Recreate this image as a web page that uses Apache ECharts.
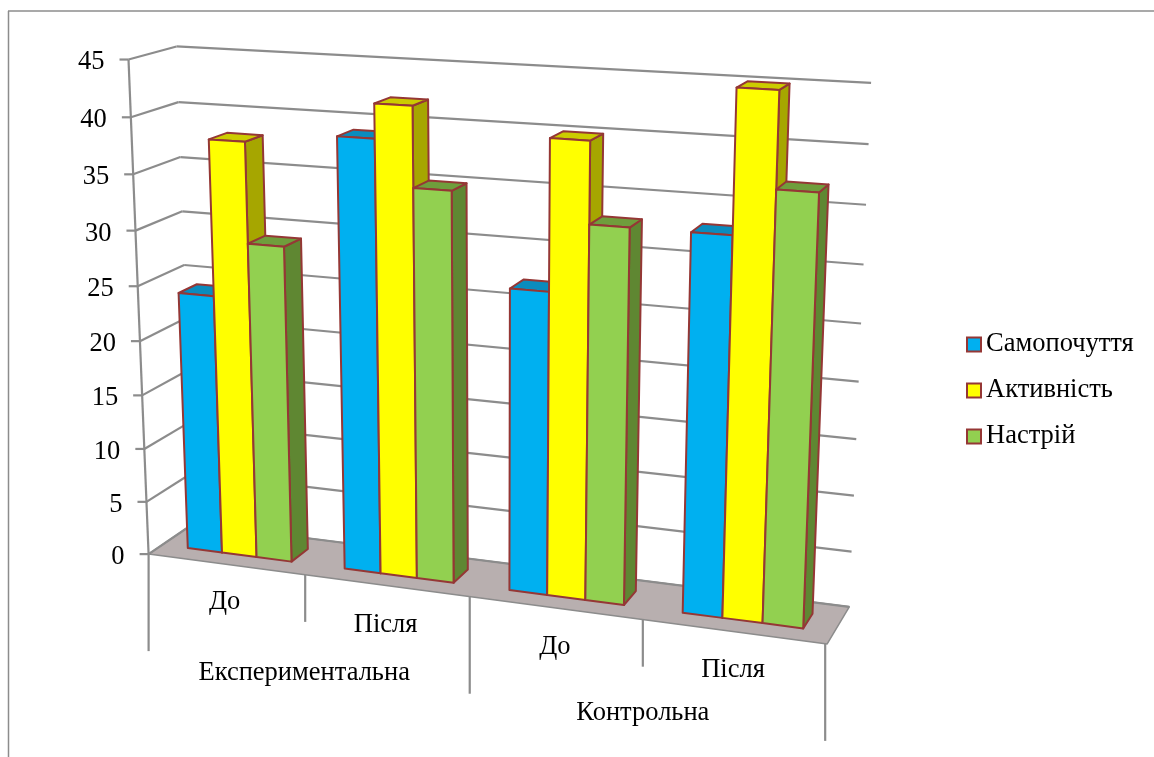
<!DOCTYPE html>
<html>
<head>
<meta charset="utf-8">
<title>Самопочуття, активність, настрій</title>
<script src="https://cdn.jsdelivr.net/npm/echarts@6/dist/echarts.min.js"></script>
<style>html,body{margin:0;padding:0;background:#fff}#chart{width:1154px;height:757px}</style>
</head>
<body>
<div id="chart"></div>
<script>
// Chart data
const groupNames = ['Експериментальна', 'Контрольна'];
const stageNames = ['До', 'Після', 'До', 'Після'];
const seriesNames = ['Самопочуття', 'Активність', 'Настрій'];
const wellbeing = [24, 39, 27, 33];
const activity = [38, 42, 40, 45];
const mood = [29, 35, 33, 37];
const yTicks = [0, 5, 10, 15, 20, 25, 30, 35, 40, 45];

// Face colours per series: front, top, side
const faceColors = [
  ['#00B0F0', '#0A8CBE', '#00729C'],
  ['#FFFF00', '#CCCC00', '#A6A600'],
  ['#92D050', '#6F9E3C', '#5F8732']
];
const outline = '#953735';
const wallGray = '#8C8C8C';
const floorFill = '#B8AFAF';
const serif = '"Liberation Serif", "Times New Roman", serif';
const textSize = 26.5;

// Perspective camera: normalised box coordinates (across, up, depth) to screen
const camera = [0.59894, -0.02712, 0.05200, 0.14860, 0.02778, -0.49783, -0.01062, 0.55411, -0.09628, -0.05470, 0.03771];
const depthFront = 0.3, depthBack = 0.7;
const barShare = 2 / 9, barInset = 1 / 6;
const gridBox = { left: 0, top: 0, width: 800, height: 450 };

// Label drop below the floor edge
const stageDrop = [38, 39, 39, 38];
const groupDrop = [98, 93];

// Goes through the axis scales, then through the camera
function place(api, x, y, z) {
  const c = api.coord([x, y]);
  const X = (c[0] - gridBox.left) / gridBox.width;
  const Y = 1 - (c[1] - gridBox.top) / gridBox.height;
  const p = camera;
  const w = p[8] * X + p[9] * Y + p[10] * z + 1;
  return [
    1000 * (p[0] * X + p[1] * Y + p[2] * z + p[3]) / w,
    1000 * (p[4] * X + p[5] * Y + p[6] * z + p[7]) / w
  ];
}

function face(points, fill, stroke, width) {
  return { type: 'polygon', shape: { points }, style: { fill, stroke, lineWidth: width, lineJoin: 'round' } };
}
function segment(a, b, width) {
  return { type: 'line', shape: { x1: a[0], y1: a[1], x2: b[0], y2: b[1] }, style: { stroke: wallGray, lineWidth: width, lineCap: 'butt' } };
}
function label(text, x, y, align) {
  return { type: 'text', style: { text, x, y, align: align || 'center', verticalAlign: 'middle', fontSize: textSize, fontFamily: serif, fill: '#000' } };
}

function barRenderer(k) {
  return function (params, api) {
    const cat = api.value(0), val = api.value(1);
    const x0 = cat + barInset + k * barShare, x1 = x0 + barShare;
    const colors = faceColors[k];
    const a = (x, y, z) => place(api, x, y, z);
    return {
      type: 'group',
      children: [
        face([a(x1, 0, depthFront), a(x1, 0, depthBack), a(x1, val, depthBack), a(x1, val, depthFront)], colors[2], outline, 2),
        face([a(x0, val, depthFront), a(x1, val, depthFront), a(x1, val, depthBack), a(x0, val, depthBack)], colors[1], outline, 2),
        face([a(x0, 0, depthFront), a(x1, 0, depthFront), a(x1, val, depthFront), a(x0, val, depthFront)], colors[0], outline, 2)
      ]
    };
  };
}

function floorRenderer(params, api) {
  const corners = [place(api, 0, 0, 0), place(api, 4, 0, 0), place(api, 4, 0, 1), place(api, 0, 0, 1)];
  return face(corners, floorFill, wallGray, 1.5);
}

function valueTickRenderer(params, api) {
  const v = api.value(1);
  const front = place(api, 0, v, 0), back = place(api, 0, v, 1), right = place(api, 4, v, 1);
  return {
    type: 'group',
    children: [
      segment(back, right, 2.2),
      segment(front, back, 2.2),
      segment([front[0] - 9, front[1]], front, 2.2),
      label(String(v), front[0] - 24, front[1] + 3, 'right')
    ]
  };
}

function valueAxisRenderer(params, api) {
  return segment(place(api, 0, 0, 0), place(api, 0, 45, 0), 2.2);
}

// Short dividers between stages, long ones between groups
function dividerRenderer(params, api) {
  const x = api.value(0);
  const top = place(api, x, 0, 0);
  const px = top[0] - x * 0.5;
  return segment([px, top[1]], [px, top[1] + (x % 2 === 0 ? 97 : 47)], 2.2);
}

function stageRenderer(params, api) {
  const i = api.value(0);
  const p = place(api, i + 0.5, 0, 0);
  return label(stageNames[i], p[0] - 1.5, p[1] + stageDrop[i]);
}

function groupRenderer(params, api) {
  const i = api.value(0);
  const p = place(api, i * 2 + 1, 0, 0);
  return label(groupNames[i], p[0] - 1.5, p[1] + groupDrop[i]);
}

function helperSeries(data, renderItem, z) {
  return { type: 'custom', coordinateSystem: 'cartesian2d', silent: true, z, clip: false, data, renderItem, encode: { x: 0, y: 1 } };
}

const option = {
  animation: false,
  backgroundColor: '#fff',
  grid: Object.assign({ containLabel: false }, gridBox),
  xAxis: { type: 'value', min: 0, max: 4, show: false },
  yAxis: { type: 'value', min: 0, max: 45, interval: 5, show: false },
  legend: {
    orient: 'vertical', left: 966, top: 331, padding: 0, itemWidth: 14, itemHeight: 14, itemGap: 19,
    selectedMode: false, icon: 'rect', data: seriesNames,
    itemStyle: { borderColor: outline, borderWidth: 2 },
    textStyle: { fontFamily: serif, fontSize: textSize, color: '#000' }
  },
  graphic: [
    { type: 'line', silent: true, shape: { x1: 8, y1: 11, x2: 1154, y2: 11 }, style: { stroke: wallGray, lineWidth: 1.5 } },
    { type: 'line', silent: true, shape: { x1: 8.5, y1: 11, x2: 8.5, y2: 757 }, style: { stroke: wallGray, lineWidth: 1.5 } }
  ],
  series: [
    helperSeries([[0, 0]], floorRenderer, 1),
    helperSeries(yTicks.map(t => [0, t]), valueTickRenderer, 2),
    helperSeries([[0, 0]], valueAxisRenderer, 2),
    helperSeries([0, 1, 2, 3, 4].map(x => [x, 0]), dividerRenderer, 2),
    helperSeries(stageNames.map((s, i) => [i, 0]), stageRenderer, 2),
    helperSeries(groupNames.map((s, i) => [i, 0]), groupRenderer, 2)
  ].concat([wellbeing, activity, mood].map((values, k) => ({
    type: 'custom',
    name: seriesNames[k],
    coordinateSystem: 'cartesian2d',
    silent: true,
    clip: false,
    z: 3,
    itemStyle: { color: faceColors[k][0], borderColor: outline, borderWidth: 2 },
    data: values.map((v, i) => [i, v]),
    encode: { x: 0, y: 1 },
    renderItem: barRenderer(k)
  })))
};

echarts.init(document.getElementById('chart'), null, { renderer: 'canvas' }).setOption(option);
</script>
</body>
</html>
